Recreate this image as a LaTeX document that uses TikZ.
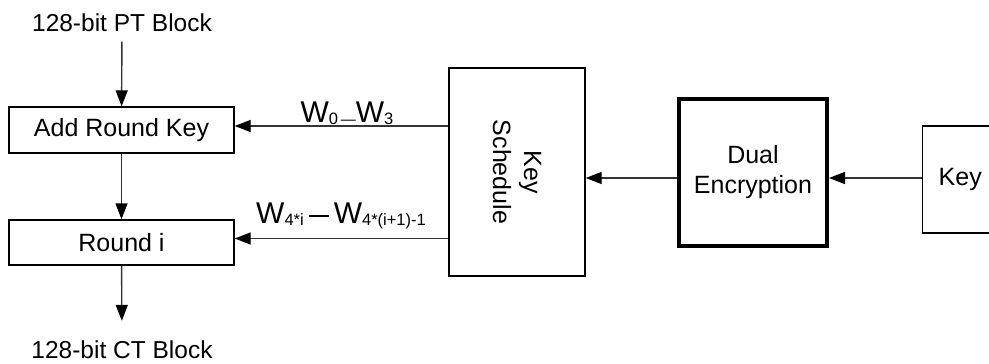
\documentclass[tikz,border=0pt]{standalone}
\usepackage{fontspec}
\setmainfont{Liberation Sans}
\usetikzlibrary{arrows.meta}
\newcommand\lowsub[1]{\raisebox{-2.5pt}{\fontsize{16.5}{16.5}\selectfont #1}}
\begin{document}
\begin{tikzpicture}[x=1pt,y=-1pt,
  box/.style={draw, line width=1.4pt, font=\fontsize{25}{30}\selectfont, inner sep=0pt, align=center},
  arr/.style={line width=1.4pt, draw=black!80, -{Triangle[length=16pt,width=12pt,color=black,fill=black]}},
  lbl/.style={font=\fontsize{24.5}{28}\selectfont, inner xsep=0pt},
  wlbl/.style={font=\fontsize{30}{30}\selectfont, inner sep=0pt, anchor=base}]
\clip (0,0) rectangle (989,364);
\node[lbl, inner ysep=10pt] (pt) at (122,22.5) {128-bit PT Block};
\node[box, minimum width=225, minimum height=46] (ark) at (121.5,130) {Add Round Key};
\node[box, minimum width=225, minimum height=45] (rnd) at (121.5,242.5) {Round i};
\node[lbl, inner ysep=20pt] (ct) at (122,350) {128-bit CT Block};
\node[box, minimum width=136, minimum height=208] (ks) at (517,172) {};
\node[rotate=-90, font=\fontsize{25}{31}\selectfont, align=center, inner sep=0pt] (ksl) at (ks.center) {Key\\Schedule};
\node[box, line width=4pt, minimum width=148, minimum height=147] (de) at (753,172.5) {Dual\\Encryption};
\node[box, anchor=west, minimum height=107, text width=80pt, inner xsep=16pt, align=left] (key) at (922,179.5) {Key};
\coordinate (r1) at (0,126);
\coordinate (r2) at (0,238.5);
\coordinate (r3) at (0,178);
\draw[arr] (pt) -- (ark);
\draw[arr] (ark) -- (rnd);
\draw[arr] (rnd) -- (ct);
\draw[arr] (ks.west |- r1) -- (ark.east |- r1);
\draw[arr] (ks.west |- r2) -- (rnd.east |- r2);
\draw[arr] (de.west |- r3) -- (ks.east |- r3);
\draw[arr] (key.west |- r3) -- (de.east |- r3);
\node[wlbl] (l1) at (347,122) {W\lowsub{0\,}\lowsub{\fontsize{15}{15}\selectfont —}W\lowsub{3}};
\node[wlbl] (l2) at (341,223) {W\lowsub{4*i}\hspace{5pt}\rule[6.5pt]{20pt}{2pt}\hspace{5pt}W\lowsub{4*(i+1)-1}};
\end{tikzpicture}
\end{document}
